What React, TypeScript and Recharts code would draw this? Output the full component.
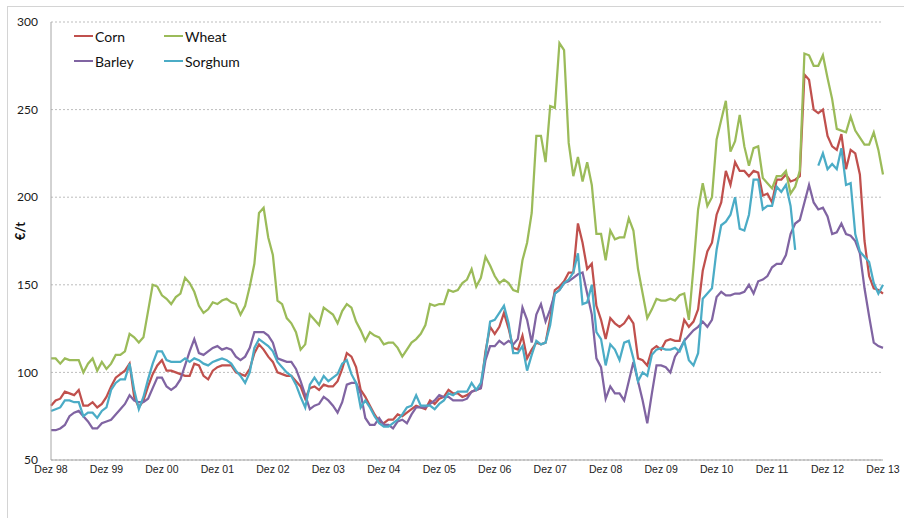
import { CartesianGrid, Line, LineChart, XAxis, YAxis } from 'recharts';

// one label per December, Dez 98 .. Dez 13
const tickLabels = [
  'Dez 98', 'Dez 99', 'Dez 00', 'Dez 01', 'Dez 02', 'Dez 03', 'Dez 04', 'Dez 05',
  'Dez 06', 'Dez 07', 'Dez 08', 'Dez 09', 'Dez 10', 'Dez 11', 'Dez 12', 'Dez 13'
];

const yTicks = [50, 100, 150, 200, 250, 300];

// monthly prices in €/t, each row starts at a December
const corn = [
  81, 84, 85, 89, 88, 87, 90, 81, 81, 83, 80, 82,
  86, 92, 97, 99, 101, 105, 86, 80, 84, 92, 99, 104,
  107, 101, 101, 100, 99, 98, 98, 105, 104, 98, 96, 101,
  103, 104, 104, 104, 100, 99, 98, 102, 111, 116, 113, 109,
  106, 100, 99, 98, 98, 95, 92, 85, 91, 92, 90, 93,
  92, 92, 95, 102, 111, 109, 103, 90, 86, 81, 76, 72,
  71, 73, 73, 76, 75, 77, 79, 81, 80, 79, 84, 82,
  85, 86, 90, 88, 88, 86, 87, 89, 90, 91, 112, 126,
  122, 126, 134, 125, 114, 113, 121, 108, 113, 117, 116, 117,
  131, 147, 149, 152, 157, 157, 185, 174, 159, 162, 138, 130,
  119, 131, 128, 126, 128, 132, 128, 108, 107, 104, 113, 115,
  113, 118, 119, 118, 118, 130, 126, 129, 136, 158, 169, 174,
  190, 197, 215, 207, 220, 215, 215, 212, 215, 214, 201, 202,
  197, 210, 210, 213, 209, 210, 212, 270, 267, 250, 248, 250,
  235, 229, 227, 236, 216, 227, 225, 213, 175, 155, 148, 147,
  145
];

const wheat = [
  108, 108, 105, 108, 107, 107, 107, 100, 105, 108, 101, 106,
  102, 105, 110, 110, 112, 122, 120, 117, 120, 135, 150, 149,
  144, 142, 139, 143, 145, 154, 151, 146, 138, 134, 136, 140,
  139, 141, 142, 140, 139, 133, 138, 149, 162, 191, 194, 177,
  167, 141, 139, 131, 128, 123, 113, 116, 133, 130, 127, 137,
  135, 133, 128, 135, 139, 137, 129, 124, 118, 123, 121, 120,
  116, 117, 117, 114, 109, 113, 117, 119, 122, 127, 139, 138,
  139, 139, 147, 146, 147, 151, 153, 159, 149, 154, 166, 161,
  155, 151, 153, 151, 147, 146, 164, 174, 191, 235, 235, 220,
  252, 251, 288, 284, 231, 212, 223, 209, 220, 207, 179, 179,
  164, 181, 176, 177, 177, 188, 181, 159, 145, 131, 136, 142,
  141, 141, 142, 141, 144, 145, 130, 160, 193, 208, 195, 200,
  233, 244, 255, 226, 232, 247, 229, 218, 228, 229, 211, 208,
  205, 212, 212, 215, 202, 206, 215, 282, 281, 275, 275, 281,
  268, 256, 239, 238, 237, 246, 238, 234, 230, 230, 237, 227,
  213
];

const barley = [
  67, 67, 68, 70, 75, 77, 78, 75, 72, 68, 68, 71,
  72, 73, 76, 79, 82, 87, 84, 83, 83, 85, 91, 97,
  97, 92, 90, 92, 96, 104, 112, 119, 111, 110, 112, 114,
  115, 113, 114, 113, 109, 107, 109, 114, 123, 123, 123, 121,
  117, 108, 107, 106, 106, 102, 95, 87, 79, 81, 82, 86,
  84, 81, 77, 83, 93, 94, 94, 88, 74, 70, 70, 74,
  70, 70, 68, 72, 73, 71, 76, 80, 80, 80, 82, 84,
  87, 86, 86, 84, 84, 84, 85, 89, 90, 91, 107, 115,
  115, 118, 116, 118, 116, 119, 137, 130, 117, 133, 139, 129,
  136, 145, 147, 151, 152, 154, 156, 157, 145, 133, 108, 103,
  85, 92, 88, 88, 84, 95, 106, 95, 84, 71, 88, 104,
  104, 103, 100, 109, 113, 118, 121, 124, 126, 129, 126, 130,
  143, 146, 144, 144, 145, 145, 146, 150, 145, 152, 153, 155,
  160, 162, 162, 167, 179, 185, 187, 197, 207, 197, 193, 194,
  189, 179, 180, 185, 179, 178, 175, 168, 148, 132, 117, 115,
  114
];

const sorghum = [
  78, 79, 80, 84, 84, 83, 83, 75, 77, 77, 74, 78,
  80, 90, 94, 96, 96, 105, 90, 79, 86, 96, 105, 112,
  112, 107, 106, 106, 106, 108, 106, 108, 107, 105, 104, 106,
  107, 108, 107, 105, 101, 98, 94, 100, 114, 119, 117, 115,
  112, 106, 103, 100, 98, 93, 86, 80, 93, 97, 93, 98,
  95, 97, 99, 105, 107, 99, 94, 80, 84, 80, 75, 71,
  69, 69, 71, 73, 76, 80, 81, 87, 81, 81, 81, 79,
  82, 84, 88, 87, 89, 89, 89, 94, 90, 94, 110, 129,
  130, 134, 138, 128, 111, 111, 115, 101, 110, 118, 116, 117,
  127, 145, 147, 151, 153, 157, 168, 139, 140, 150, 123, 119,
  104, 116, 113, 107, 117, 118, 108, 95, 100, 98, 110, 113,
  114, 113, 113, 114, 112, 118, 107, 104, 111, 142, 145, 148,
  170, 184, 186, 190, 200, 182, 181, 190, 210, 210, 193, 195,
  195, 206, 203, 207, 195, 170, null, null, null, null, 218, 225,
  216, 219, 216, 228, 207, 208, 179, 169, 166, 163, 151, 145,
  150
];

const series = [
  { key: 'corn', name: 'Corn', color: '#C0504D' },
  { key: 'wheat', name: 'Wheat', color: '#9BBB59' },
  { key: 'barley', name: 'Barley', color: '#8064A2' },
  { key: 'sorghum', name: 'Sorghum', color: '#4BACC6' }
];

const data = corn.map((value, index) => ({
  month: index,
  corn: value,
  wheat: wheat[index],
  barley: barley[index],
  sorghum: sorghum[index]
}));

const monthTicks = tickLabels.map((_, index) => index * 12);

const legendPos = [
  { left: 74, top: 26 },
  { left: 164, top: 26 },
  { left: 74, top: 51 },
  { left: 164, top: 51 }
];

export default function App() {
  return (
    <div
      style={{
        position: 'absolute',
        left: 0,
        top: 0,
        width: 904,
        height: 518,
        overflow: 'hidden',
        background: '#fff',
        fontFamily: 'Lato, sans-serif'
      }}
    >
      <div
        style={{
          position: 'absolute',
          left: 7,
          top: 6,
          width: 1000,
          height: 1000,
          border: '1px solid #d4d4d4'
        }}
      />
      <LineChart width={904} height={518} data={data} margin={{ top: 22, right: 21, bottom: 28, left: 0 }}>
        <CartesianGrid vertical={false} stroke="#bdbdbd" strokeDasharray="2 2" />
        <XAxis
          dataKey="month"
          type="number"
          domain={[0, 180]}
          ticks={monthTicks}
          interval={0}
          tickFormatter={(v: number) => tickLabels[v / 12]}
          tickLine={false}
          tickMargin={0}
          axisLine={{ stroke: '#a6a6a6' }}
          tick={{ fontSize: 10.5, fill: '#222', fontFamily: '"Liberation Sans Narrow", "Liberation Sans", sans-serif' }}
        />
        <YAxis
          domain={[50, 300]}
          ticks={yTicks}
          width={51}
          tickLine={false}
          tickMargin={7}
          axisLine={{ stroke: '#a6a6a6' }}
          tick={{ fontSize: 12, fill: '#1a1a1a', fontFamily: 'Lato, sans-serif' }}
        />
        {series.map((s) => (
          <Line
            key={s.key}
            type="linear"
            dataKey={s.key}
            name={s.name}
            stroke={s.color}
            strokeWidth={2.25}
            dot={false}
            isAnimationActive={false}
          />
        ))}
      </LineChart>

      {series.map((s, i) => (
        <div
          key={s.key}
          style={{
            position: 'absolute',
            left: legendPos[i].left,
            top: legendPos[i].top,
            height: 20,
            display: 'flex',
            alignItems: 'center',
            fontSize: 14,
            color: '#111'
          }}
        >
          <span style={{ display: 'inline-block', width: 19, height: 2.5, background: s.color }} />
          <span style={{ marginLeft: 2 }}>{s.name}</span>
        </div>
      ))}

      <div
        style={{
          position: 'absolute',
          left: 6,
          top: 221,
          width: 28,
          height: 20,
          lineHeight: '20px',
          textAlign: 'center',
          fontSize: 13,
          fontWeight: 700,
          color: '#111',
          transform: 'rotate(-90deg)'
        }}
      >
        €/t
      </div>
    </div>
  );
}
